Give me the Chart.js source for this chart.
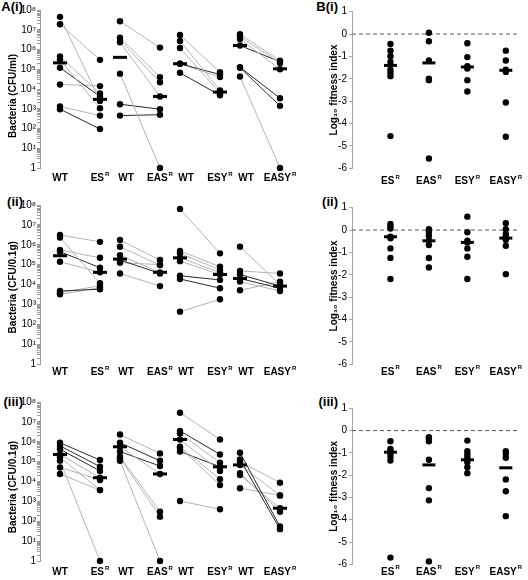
<!DOCTYPE html>
<html>
<head>
<meta charset="utf-8">
<script src="https://cdn.jsdelivr.net/npm/chart.js@4.4.1/dist/chart.umd.min.js"></script>
<style>
  html, body { margin: 0; padding: 0; background: #fff; }
  #wrap { position: relative; width: 528px; height: 580px; overflow: hidden; background: #fff; }
  canvas { position: absolute; }
  .plab { position: absolute; font: bold 13px "Liberation Sans", Arial, sans-serif; line-height: 14px; text-align: right; color: #000; }
</style>
</head>
<body>
<div id="wrap">
  <div class="plab" style="left:0;width:23px;top:0px;">A(i)</div>
  <div class="plab" style="left:0;width:23px;top:195px;">(ii)</div>
  <div class="plab" style="left:0;width:23px;top:395px;">(iii)</div>
  <div class="plab" style="left:290px;width:48px;top:0px;">B(i)</div>
  <div class="plab" style="left:290px;width:48px;top:195px;">(ii)</div>
  <div class="plab" style="left:290px;width:48px;top:395px;">(iii)</div>
  <canvas id="a1" width="310" height="190" style="left:0;top:0"></canvas>
  <canvas id="a2" width="310" height="190" style="left:0;top:190px"></canvas>
  <canvas id="a3" width="310" height="195" style="left:0;top:385px"></canvas>
  <canvas id="b1" width="228" height="190" style="left:300px;top:0"></canvas>
  <canvas id="b2" width="228" height="190" style="left:300px;top:190px"></canvas>
  <canvas id="b3" width="228" height="195" style="left:300px;top:385px"></canvas>
</div>
<script>
// ---------------- DATA ----------------
// Category labels
const leftCategories = ['WT', 'ES', 'WT', 'EAS', 'WT', 'ESY', 'WT', 'EASY'];
const leftCategorySup = ['', 'R', '', 'R', '', 'R', '', 'R'];
const mutantNames = ['ES', 'EAS', 'ESY', 'EASY'];
const mutantSup = ['R', 'R', 'R', 'R'];
const logTickExponents = [0, 1, 2, 3, 4, 5, 6, 7, 8];
const fitnessTicks = [1, 0, -1, -2, -3, -4, -5, -6];

// A(i) Bacteria (CFU/ml): paired WT -> mutant values per group (ES, EAS, ESY, EASY)
const Ai_wt = [
  [4.5e7, 1.9e7, 4.5e5, 3.0e5, 1.2e5, 1.7e4, 1.3e3, 9.5e2],
  [2.7e7, 4.0e6, 3.0e6, 2.3e6, 6.0e4, 1.7e3, 4.5e2],
  [5.4e6, 2.7e6, 1.2e6, 1.9e5, 1.9e5, 6.6e4],
  [5.9e6, 4.5e6, 3.4e6, 1.6e6, 1.26e5, 1.2e5, 4.3e4]
];
const Ai_mut = [
  [2.5e3, 3.0e5, 6.0e3, 1.07e3, 4.2e3, 1.4e4, 4.5e2, 9.5e1],
  [1.25e6, 4.0e4, 2.2e4, 4.2e3, 1, 9.5e2, 5.0e2],
  [7.0e4, 8.5e3, 6.3e3, 5.4e4, 4.0e4, 4.8e3],
  [2.7e5, 2.1e5, 1.0e5, 2.4e5, 3.4e3, 1.4e3, 1]
];
const Ai_dark = [
  [0, 0, 0, 0, 1, 0, 0, 1],
  [0, 0, 0, 0, 0, 1, 1],
  [0, 0, 0, 1, 0, 1],
  [0, 0, 0, 1, 1, 1, 0]
];
const Ai_wtMedian = [2.1e5, 4.0e5, 1.9e5, 1.6e6];
const Ai_mutMedian = [3.0e3, 4.2e3, 7.0e3, 1.05e5];

// A(ii) Bacteria (CFU/0.1g)
const Aii_wt = [
  [3.1e6, 2.3e6, 5.5e5, 4.5e5, 1.4e5, 4.7e3, 3.9e3, 3.2e3],
  [1.74e6, 7.9e5, 3.0e5, 1.7e5, 1.26e5, 3.6e4],
  [6.3e7, 4.9e5, 3.7e5, 2.2e5, 1.5e5, 2.75e4, 1.9e4, 4.3e2],
  [7.9e5, 4.8e4, 3.2e4, 2.0e4, 1.4e4, 5.1e3]
];
const Aii_mut = [
  [1.4e6, 1.15e4, 2.2e5, 7.0e4, 4.1e4, 5.8e3, 8.7e3, 6.9e3],
  [1.7e5, 9.5e4, 4.0e4, 3.6e4, 1.0e5, 8.3e3],
  [3.7e5, 7.9e4, 5.4e4, 4.0e4, 3.2e4, 1.7e4, 6.5e3, 1.8e3],
  [1.0e4, 3.6e4, 8.3e3, 6.5e3, 4.7e3, 1.4e4]
];
const Aii_dark = [
  [0, 0, 0, 1, 0, 1, 0, 0],
  [0, 0, 0, 1, 0, 0],
  [0, 0, 0, 0, 0, 1, 1, 0],
  [0, 0, 1, 1, 0, 0]
];
const Aii_wtMedian = [2.8e5, 1.9e5, 2.2e5, 2.0e4];
const Aii_mutMedian = [4.1e4, 4.1e4, 3.2e4, 8.3e3];

// A(iii) Bacteria (CFU/0.1g)
const Aiii_wt = [
  [8.9e5, 6.2e5, 4.2e5, 2.3e5, 1.66e5, 1.12e5, 5.1e4, 2.4e4],
  [2.3e6, 8.9e5, 5.6e5, 3.2e5, 1.8e5, 1.5e5, 1.1e5],
  [2.9e7, 3.5e6, 2.6e6, 1.3e6, 5.6e5, 5.0e5, 3.2e5, 1.05e3],
  [2.8e5, 1.3e5, 1.0e5, 6.8e4, 2.6e4, 2.1e4, 4.6e3]
];
const Aiii_mut = [
  [1.2e5, 5.6e4, 3.4e4, 1.55e4, 3.7e3, 1, 1.2e4, 3.7e3],
  [2.6e5, 1.1e5, 2.4e4, 6.0e4, 3.0e2, 1.7e2, 1],
  [1.3e6, 2.3e5, 8.9e4, 3.4e4, 1.3e4, 6.6e3, 5.5e4, 4.0e2],
  [54, 40, 8.7e3, 2.0e3, 3.0e2, 4.5e2, 2.0e3]
];
const Aiii_dark = [
  [1, 1, 1, 0, 0, 0, 0, 0],
  [0, 1, 0, 1, 0, 0, 0],
  [0, 1, 0, 0, 0, 0, 1, 0],
  [1, 1, 0, 0, 0, 0, 0]
];
const Aiii_wtMedian = [2.3e5, 5.6e5, 1.3e6, 6.8e4];
const Aiii_mutMedian = [1.55e4, 2.4e4, 5.5e4, 4.5e2];

// B Log10 fitness index per mutant (ES, EAS, ESY, EASY)
const Bi_index = [
  [-0.44, -0.74, -0.99, -1.25, -1.59, -1.74, -1.88, -4.56],
  [0.06, -0.32, -1.18, -1.99, -2.06, -5.56],
  [-0.41, -1.03, -1.44, -1.54, -2.06, -2.57],
  [-0.74, -1.18, -1.59, -1.69, -3.06, -4.59]
];
const Bi_median = [-1.40, -1.29, -1.47, -1.62];

const Bii_index = [
  [0.27, 0.16, 0.07, -0.30, -0.37, -0.82, -1.25, -2.19],
  [0.04, -0.07, -0.25, -0.45, -0.67, -1.25, -1.67],
  [0.60, -0.10, -0.48, -0.55, -0.82, -1.19, -2.19],
  [0.31, 0.04, -0.18, -0.30, -0.43, -0.70, -1.97]
];
const Bii_median = [-0.30, -0.48, -0.55, -0.36];

const Biii_index = [
  [-0.48, -0.82, -0.90, -1.01, -1.16, -1.34, -5.70],
  [-0.30, -0.37, -0.48, -1.31, -2.58, -3.13, -5.87],
  [-0.45, -0.93, -1.07, -1.22, -1.42, -1.64, -1.91],
  [-0.93, -1.04, -1.22, -2.19, -2.72, -3.84]
];
const Biii_median = [-0.97, -1.54, -1.31, -1.67];

// ---------------- LAYOUT / STYLE ----------------
const FONT = '"Liberation Sans", Arial, Helvetica, sans-serif';
const GROUP_X = [[0, 2], [3, 5], [6, 8], [9, 11]];
const LEFT_LABEL_POS = [0, 2, 3.3, 5, 6.3, 8, 9.3, 11];
const RIGHT_LABEL_POS = [1, 2, 3, 4];
const GRAY = '#b4b4b4';
const DARK = '#2a2a2a';
const SUP = ['', '¹', '²', '³', '⁴', '⁵', '⁶', '⁷', '⁸'];

Chart.defaults.font.family = FONT;
Chart.defaults.color = '#000';

function catLabels(positions, bases, sups, offset) {
  return {
    id: 'catLabels',
    afterDraw(chart) {
      const ctx = chart.ctx;
      const xs = chart.scales.x;
      const y = chart.chartArea.bottom + offset;
      ctx.save();
      ctx.fillStyle = '#000';
      ctx.textBaseline = 'middle';
      ctx.textAlign = 'left';
      bases.forEach((b, i) => {
        const x = xs.getPixelForValue(positions[i]);
        ctx.font = 'bold 10px ' + FONT;
        const w1 = ctx.measureText(b).width;
        ctx.font = 'bold 6px ' + FONT;
        const w2 = sups[i] ? ctx.measureText(sups[i]).width + 1 : 0;
        const start = x - (w1 + w2) / 2;
        ctx.font = 'bold 10px ' + FONT;
        ctx.fillText(b, start, y);
        if (sups[i]) {
          ctx.font = 'bold 6px ' + FONT;
          ctx.fillText(sups[i], start + w1 + 1, y - 4);
        }
      });
      ctx.restore();
    }
  };
}

function leftChart(id, cfg) {
  const ds = [];
  cfg.wt.forEach((wtVals, g) => {
    const [xw, xm] = GROUP_X[g];
    wtVals.forEach((w, i) => {
      const m = cfg.mut[g][i];
      if (w == null || m == null) return;
      ds.push({
        data: [{x: xw, y: w}, {x: xm, y: m}],
        showLine: true, borderColor: cfg.dark[g][i] ? DARK : GRAY, borderWidth: 1,
        pointRadius: 0, order: 3, clip: false
      });
    });
    ds.push({
      data: wtVals.map(v => ({x: xw, y: v})).concat(cfg.mut[g].map(v => ({x: xm, y: v}))),
      pointRadius: 3.2, pointBackgroundColor: '#000', pointBorderWidth: 0, order: 2, clip: false
    });
    ds.push({
      data: [{x: xw, y: cfg.wtMed[g]}, {x: xm, y: cfg.mutMed[g]}],
      pointStyle: 'line', pointRadius: 7, pointBorderWidth: 3, pointBorderColor: '#000',
      order: 1, clip: false
    });
  });
  new Chart(document.getElementById(id), {
    type: 'scatter',
    data: {datasets: ds},
    options: {
      responsive: false, animation: false, events: [],
      layout: {padding: {top: cfg.padTop, bottom: cfg.padBottom, left: 0, right: 3}},
      plugins: {legend: {display: false}, tooltip: {enabled: false}},
      scales: {
        x: {type: 'linear', min: -1, max: 12, display: false},
        y: {
          type: 'logarithmic', min: 1, max: 1e8,
          afterFit(scale) { scale.width = 40; },
          afterBuildTicks(scale) {
            const t = [];
            logTickExponents.forEach(e => {
              t.push({value: Math.pow(10, e)});
              if (e < 8) for (let k = 2; k <= 9; k++) t.push({value: k * Math.pow(10, e)});
            });
            scale.ticks = t;
          },
          ticks: {
            font: {size: 10}, color: '#000', padding: 1, autoSkip: false,
            callback(value) {
              const e = Math.log10(value);
              if (Math.abs(e - Math.round(e)) > 1e-9) return '';
              const r = Math.round(e);
              return r === 0 ? '1' : '10' + SUP[r];
            }
          },
          grid: {drawOnChartArea: false, drawTicks: true, tickLength: 3, color: '#9a9a9a'},
          border: {color: '#9a9a9a'},
          title: {display: true, text: cfg.title, font: {size: 10, weight: 'bold'}, color: '#000', padding: {top: 7, bottom: 0}}
        }
      }
    },
    plugins: [catLabels(LEFT_LABEL_POS, leftCategories, leftCategorySup, cfg.labelOffset)]
  });
}

function rightChart(id, cfg) {
  const XMAX = 4.33;
  const ds = [{
    data: [{x: 0, y: 0}, {x: XMAX, y: 0}], showLine: true, borderColor: '#555', borderWidth: 1,
    borderDash: [4, 3], pointRadius: 0, order: 4, clip: false
  }];
  cfg.values.forEach((vals, g) => {
    ds.push({
      data: vals.map(v => ({x: g + 1, y: v})),
      pointRadius: 3.2, pointBackgroundColor: '#000', pointBorderWidth: 0, order: 2, clip: false
    });
  });
  ds.push({
    data: cfg.median.map((v, g) => ({x: g + 1, y: v})),
    pointStyle: 'line', pointRadius: 6.5, pointBorderWidth: 3, pointBorderColor: '#000', order: 1, clip: false
  });
  new Chart(document.getElementById(id), {
    type: 'scatter',
    data: {datasets: ds},
    options: {
      responsive: false, animation: false, events: [],
      layout: {padding: {top: cfg.padTop, bottom: cfg.padBottom, left: 0, right: 3}},
      plugins: {legend: {display: false}, tooltip: {enabled: false}},
      scales: {
        x: {type: 'linear', min: 0, max: XMAX, display: false},
        y: {
          type: 'linear', min: -6, max: 1,
          afterFit(scale) { scale.width = 52; },
          afterBuildTicks(scale) { scale.ticks = fitnessTicks.map(v => ({value: v})); },
          ticks: {font: {size: 10}, color: '#000', padding: 2},
          grid: {drawOnChartArea: false, drawTicks: true, tickLength: 3, color: '#a8a8a8'},
          border: {color: '#a8a8a8'},
          title: {display: true, text: 'Log₁₀ fitness index', font: {size: 10, weight: 'bold'}, color: '#000', padding: {top: 28, bottom: 0}}
        }
      }
    },
    plugins: [catLabels(RIGHT_LABEL_POS, mutantNames, mutantSup, cfg.labelOffset)]
  });
}

leftChart('a1', {wt: Ai_wt, mut: Ai_mut, dark: Ai_dark, wtMed: Ai_wtMedian, mutMed: Ai_mutMedian,
  padTop: 8, padBottom: 22, title: 'Bacteria (CFU/ml)     ', labelOffset: 10});
leftChart('a2', {wt: Aii_wt, mut: Aii_mut, dark: Aii_dark, wtMed: Aii_wtMedian, mutMed: Aii_mutMedian,
  padTop: 15, padBottom: 16, title: 'Bacteria (CFU/0.1g)  ', labelOffset: 8});
leftChart('a3', {wt: Aiii_wt, mut: Aiii_mut, dark: Aiii_dark, wtMed: Aiii_wtMedian, mutMed: Aiii_mutMedian,
  padTop: 17, padBottom: 19, title: 'Bacteria (CFU/0.1g)    ', labelOffset: 11});

rightChart('b1', {values: Bi_index, median: Bi_median, padTop: 11.7, padBottom: 21.7, labelOffset: 13});
rightChart('b2', {values: Bii_index, median: Bii_median, padTop: 17.7, padBottom: 15.7, labelOffset: 7.5});
rightChart('b3', {values: Biii_index, median: Biii_median, padTop: 23.3, padBottom: 15.7, labelOffset: 7.5});
</script>
</body>
</html>
